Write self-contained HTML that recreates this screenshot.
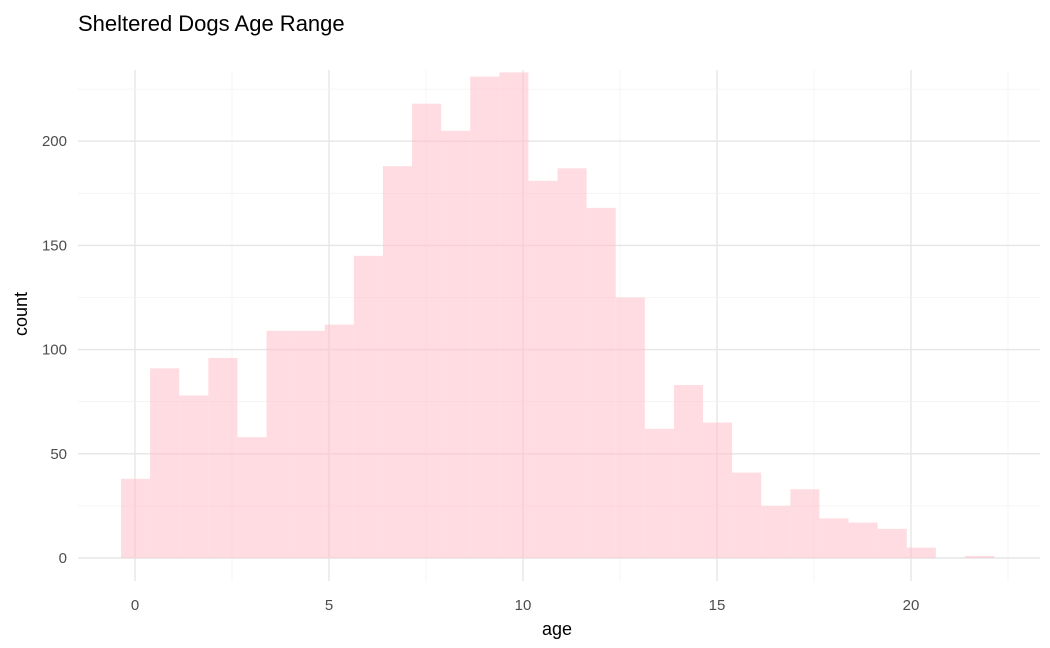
<!DOCTYPE html>
<html><head><meta charset="utf-8"><style>
body{margin:0;background:#fff;}
svg{display:block;font-family:"Liberation Sans",Arial,sans-serif;}
</style></head><body>
<svg id="c" width="1050" height="648">
<text x="78" y="31" font-size="22" fill="#000">Sheltered Dogs Age Range</text>
<g id="grid"></g><g id="bars"></g><g id="ticks"></g>
<text x="557" y="635" font-size="18" text-anchor="middle" fill="#000">age</text>
<text transform="translate(27,314) rotate(-90)" font-size="18" text-anchor="middle" fill="#000">count</text>
</svg>
<script>
const counts=[38,91,78,96,58,109,109,112,145,188,218,205,231,233,181,187,168,125,62,83,65,41,25,33,19,17,14,5,0,1];
const binStart=-0.36, binWidth=0.75;
const xTicks=[0,5,10,15,20];
const yTicks=[0,50,100,150,200];
const X=v=>135+v*38.8;
const Y=v=>558-v*2.084;
const NS="http://www.w3.org/2000/svg";
function mk(tag,attrs,parent){const e=document.createElementNS(NS,tag);for(const k in attrs)e.setAttribute(k,attrs[k]);parent.appendChild(e);return e;}
const grid=document.getElementById('grid'),bars=document.getElementById('bars'),ticks=document.getElementById('ticks');
for(let v=0;v<=22.5;v+=2.5){const major=v%5===0;
 const l=mk('line',{x1:X(v),x2:X(v),y1:70,y2:581,stroke:major?'#e6e6e6':'#f2f2f2','stroke-width':major?1.4:0.8},grid);
 
 }
for(let v=0;v<=225;v+=25){const major=v%50===0;
 const l=mk('line',{x1:78,x2:1040,y1:Y(v),y2:Y(v),stroke:major?'#e6e6e6':'#f2f2f2','stroke-width':major?1.4:0.8},grid);
 
 }
counts.forEach((c,i)=>{const x0=X(binStart+i*binWidth),x1=X(binStart+(i+1)*binWidth);
 const r=mk('rect',{x:x0,y:Y(c),width:x1-x0,height:Y(0)-Y(c),fill:'#ffc0cb','fill-opacity':0.55},bars);
 
 });
xTicks.forEach(v=>{const t=mk('text',{x:X(v),y:610,'font-size':15,'text-anchor':'middle',fill:'#4d4d4d'},ticks);t.textContent=v;
 
 });
yTicks.forEach(v=>{const t=mk('text',{x:67,y:Y(v)+5,'font-size':15,'text-anchor':'end',fill:'#4d4d4d'},ticks);t.textContent=v;
 
 });
</script>
</body></html>
